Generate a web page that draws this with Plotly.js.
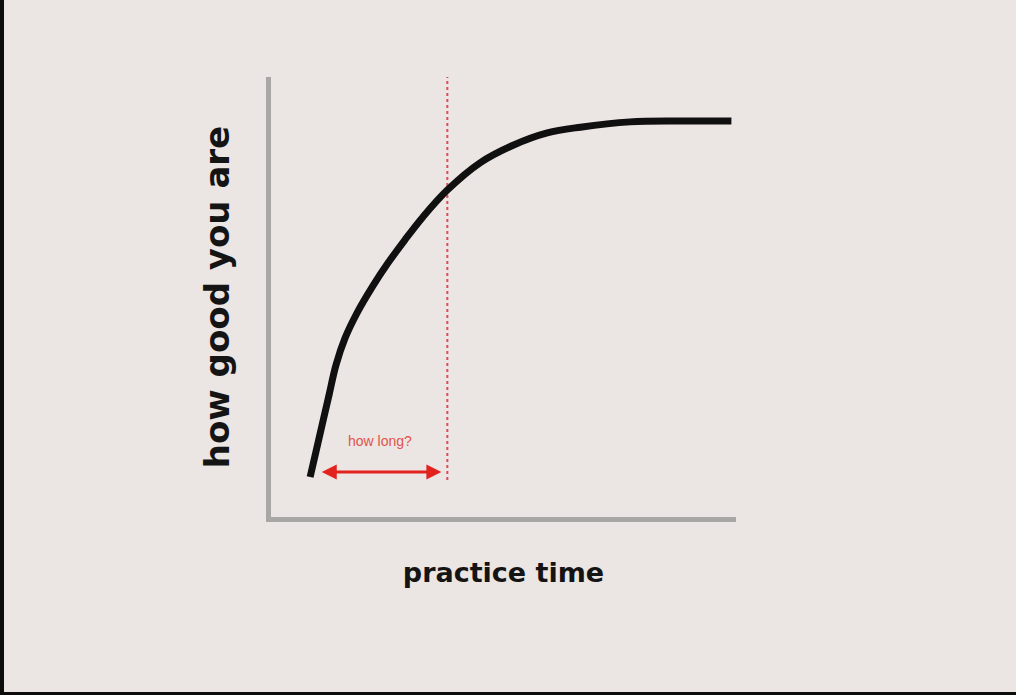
<!DOCTYPE html>
<html>
<head>
<meta charset="utf-8">
<script src="https://cdn.plot.ly/plotly-3.0.1.min.js"></script>
<style>
  html, body { margin: 0; padding: 0; background: #0c0c0c; }
  #chart { position: absolute; left: 0; top: 0; width: 1012px; height: 692px;
           border-left: 4px solid #0c0c0c; border-bottom: 3px solid #0c0c0c; }
</style>
</head>
<body>
<div id="chart"></div>
<script>
// Learning curve (arbitrary units, 0-100)
const practiceTime = [8.5, 9.8, 11.1, 12.6, 14.1, 16.1, 18.7, 22.0, 25.4, 29.1, 33.0, 38.3, 45.4, 52.6, 60.0, 67.2, 78.0, 88.9, 100.0];
const howGood      = [9.1, 15.0, 20.9, 27.7, 34.5, 40.7, 46.4, 52.3, 57.7, 63.0, 68.2, 74.3, 80.5, 84.5, 87.3, 88.6, 89.8, 90.0, 90.0];

// "how long?" marker
const thresholdX = 38.3;
const thresholdY = [8.4, 100];
const arrowStartX = 10.7;
const arrowEndX = 37.0;
const arrowY = 10.2;
const questionLabel = "how long?";
const questionPos = [23.7, 17.3];

const xTitle = "practice time";
const yTitle = "how good you are";

const curve = {
  x: practiceTime, y: howGood, type: 'scatter', mode: 'lines',
  line: { color: '#101010', width: 7, shape: 'spline', smoothing: 1 },
  hoverinfo: 'skip', showlegend: false
};
const threshold = {
  x: [thresholdX, thresholdX], y: thresholdY, type: 'scatter', mode: 'lines',
  line: { color: '#dc4d58', width: 2, dash: 'dot' },
  hoverinfo: 'skip', showlegend: false
};

const layout = {
  width: 1012, height: 692,
  paper_bgcolor: '#ebe5e3', plot_bgcolor: '#ebe5e3',
  margin: { l: 267, r: 1012 - 267 - 465, t: 77, b: 175 },
  showlegend: false,
  xaxis: {
    range: [0, 101], showgrid: false, zeroline: false, showticklabels: false, ticks: '',
    showline: true, linecolor: '#a9a7a6', linewidth: 5, fixedrange: true,
    title: { text: xTitle, standoff: 44,
             font: { family: 'DejaVu Sans', size: 27, color: '#141414', weight: 'bold' } }
  },
  yaxis: {
    range: [0, 100], showgrid: false, zeroline: false, showticklabels: false, ticks: '',
    showline: true, linecolor: '#a9a7a6', linewidth: 5, fixedrange: true,
    title: { text: yTitle, standoff: 28,
             font: { family: 'DejaVu Sans', size: 34, color: '#141414', weight: 'bold' } }
  },
  annotations: [
    {
      x: arrowEndX, y: arrowY, ax: arrowStartX, ay: arrowY,
      xref: 'x', yref: 'y', axref: 'x', ayref: 'y',
      text: '', showarrow: true, arrowhead: 2, arrowside: 'end+start',
      arrowsize: 1, arrowwidth: 3, arrowcolor: '#e3221e'
    },
    {
      x: questionPos[0], y: questionPos[1], xref: 'x', yref: 'y',
      text: questionLabel, showarrow: false,
      font: { family: 'Liberation Sans Narrow, Liberation Sans, sans-serif', size: 14, color: '#e2544a' }
    }
  ]
};

Plotly.newPlot('chart', [threshold, curve], layout, { displayModeBar: false, staticPlot: true });
</script>
</body>
</html>
